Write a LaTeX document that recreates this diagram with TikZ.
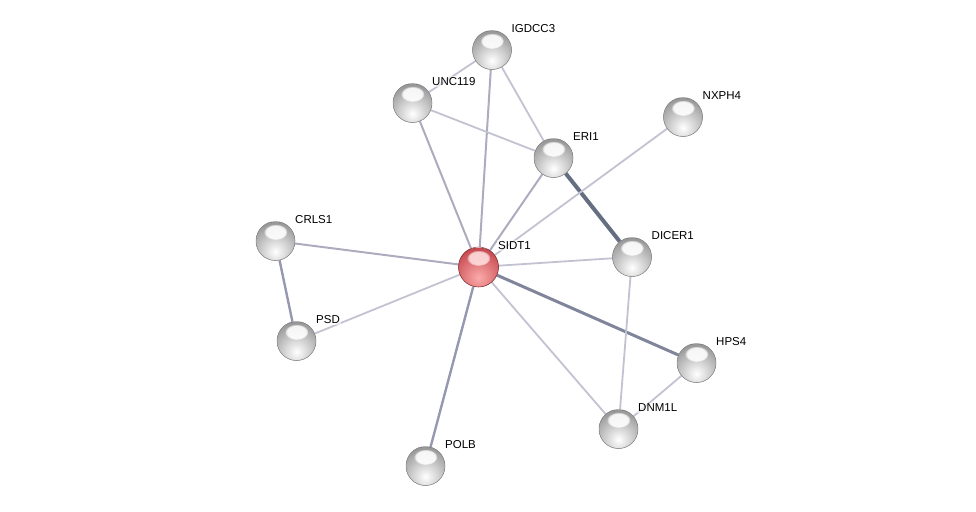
\documentclass[tikz,border=0pt]{standalone}
\usepackage{fontspec}
\setmainfont{Liberation Sans}
\usetikzlibrary{backgrounds,fadings}
\definecolor{edgeA}{RGB}{194,194,210}
\definecolor{edgeB}{RGB}{172,172,190}
\definecolor{edgeC}{RGB}{150,152,176}
\definecolor{edgeD}{RGB}{128,133,156}
\definecolor{edgeE}{RGB}{102,110,130}
\definecolor{redout}{RGB}{196,70,76}
\definecolor{redin}{RGB}{252,170,170}
\tikzset{
  protein/.style={circle, minimum size=39pt, inner sep=0pt, draw=black!45, line width=0.5pt,
    path picture={
      \fill[inner color=white, outer color=black!42] ([yshift=-11pt]path picture bounding box.center) circle (30pt);
      \fill[white, fill opacity=0.9, path fading=circle with fuzzy edge 20 percent] ([yshift=9pt]path picture bounding box.center) ellipse (12pt and 8pt);
    }},
  query/.style={circle, minimum size=40pt, inner sep=0pt, draw=redout!70!black, line width=0.5pt,
    path picture={
      \fill[inner color=redin, outer color=redout] ([yshift=-11pt]path picture bounding box.center) circle (30pt);
      \fill[white!60!redin, fill opacity=0.9, path fading=circle with fuzzy edge 20 percent] ([yshift=9pt]path picture bounding box.center) ellipse (12pt and 8pt);
    }},
  plabel/.style={anchor=base west, inner sep=1pt, fill=white, fill opacity=0.55, text opacity=1,
    font=\fontsize{11.5}{13}\selectfont},
  ea/.style={draw=edgeA, line width=1.8pt},
  eb/.style={draw=edgeB, line width=2pt},
  ec/.style={draw=edgeC, line width=2.4pt},
  ed/.style={draw=edgeD, line width=3pt},
  ee/.style={draw=edgeE, line width=4pt},
}
\begin{document}
\begin{tikzpicture}[x=1pt, y=-1pt]
\useasboundingbox (0,0) rectangle (976,511);
\node[protein] (igdcc3) at (492,50) {};
\node[protein] (unc119) at (412.5,103) {};
\node[protein] (eri1) at (553.5,158) {};
\node[protein] (nxph4) at (683,117) {};
\node[protein] (crls1) at (275.5,241) {};
\node[query] (sidt1) at (478.5,267) {};
\node[protein] (dicer1) at (632,257) {};
\node[protein] (psd) at (296.5,341) {};
\node[protein] (hps4) at (696.5,363) {};
\node[protein] (dnm1l) at (618.5,429) {};
\node[protein] (polb) at (425.5,466) {};

\node[plabel] (ligdcc3) at ([xshift=18.5pt,yshift=17.5pt]igdcc3.center) {IGDCC3};
\node[plabel] (lunc119) at ([xshift=18.5pt,yshift=17.5pt]unc119.center) {UNC119};
\node[plabel] (leri1) at ([xshift=18.5pt,yshift=17.5pt]eri1.center) {ERI1};
\node[plabel] (lnxph4) at ([xshift=18.5pt,yshift=17.5pt]nxph4.center) {NXPH4};
\node[plabel] (lcrls1) at ([xshift=18.5pt,yshift=17.5pt]crls1.center) {CRLS1};
\node[plabel] (lsidt1) at ([xshift=18.5pt,yshift=17.5pt]sidt1.center) {SIDT1};
\node[plabel] (ldicer1) at ([xshift=18.5pt,yshift=17.5pt]dicer1.center) {DICER1};
\node[plabel] (lpsd) at ([xshift=18.5pt,yshift=17.5pt]psd.center) {PSD};
\node[plabel] (lhps4) at ([xshift=18.5pt,yshift=17.5pt]hps4.center) {HPS4};
\node[plabel] (ldnm1l) at ([xshift=18.5pt,yshift=17.5pt]dnm1l.center) {DNM1L};
\node[plabel] (lpolb) at ([xshift=18.5pt,yshift=17.5pt]polb.center) {POLB};

\begin{scope}[on background layer]
\draw[ea] (igdcc3) -- (unc119);
\draw[ea] (igdcc3) -- (eri1);
\draw[eb] (igdcc3) -- (sidt1);
\draw[ea] (unc119) -- (eri1);
\draw[eb] (unc119) -- (sidt1);
\draw[eb] (eri1) -- (sidt1);
\draw[ee] (eri1) -- (dicer1);
\draw[ea] (nxph4) -- (sidt1);
\draw[eb] (crls1) -- (sidt1);
\draw[ec] (crls1) -- (psd);
\draw[ea] (psd) -- (sidt1);
\draw[ea] (sidt1) -- (dicer1);
\draw[ed] (sidt1) -- (hps4);
\draw[ea] (sidt1) -- (dnm1l);
\draw[ec] (sidt1) -- (polb);
\draw[ea] (dicer1) -- (dnm1l);
\draw[ea] (hps4) -- (dnm1l);
\end{scope}
\end{tikzpicture}
\end{document}
